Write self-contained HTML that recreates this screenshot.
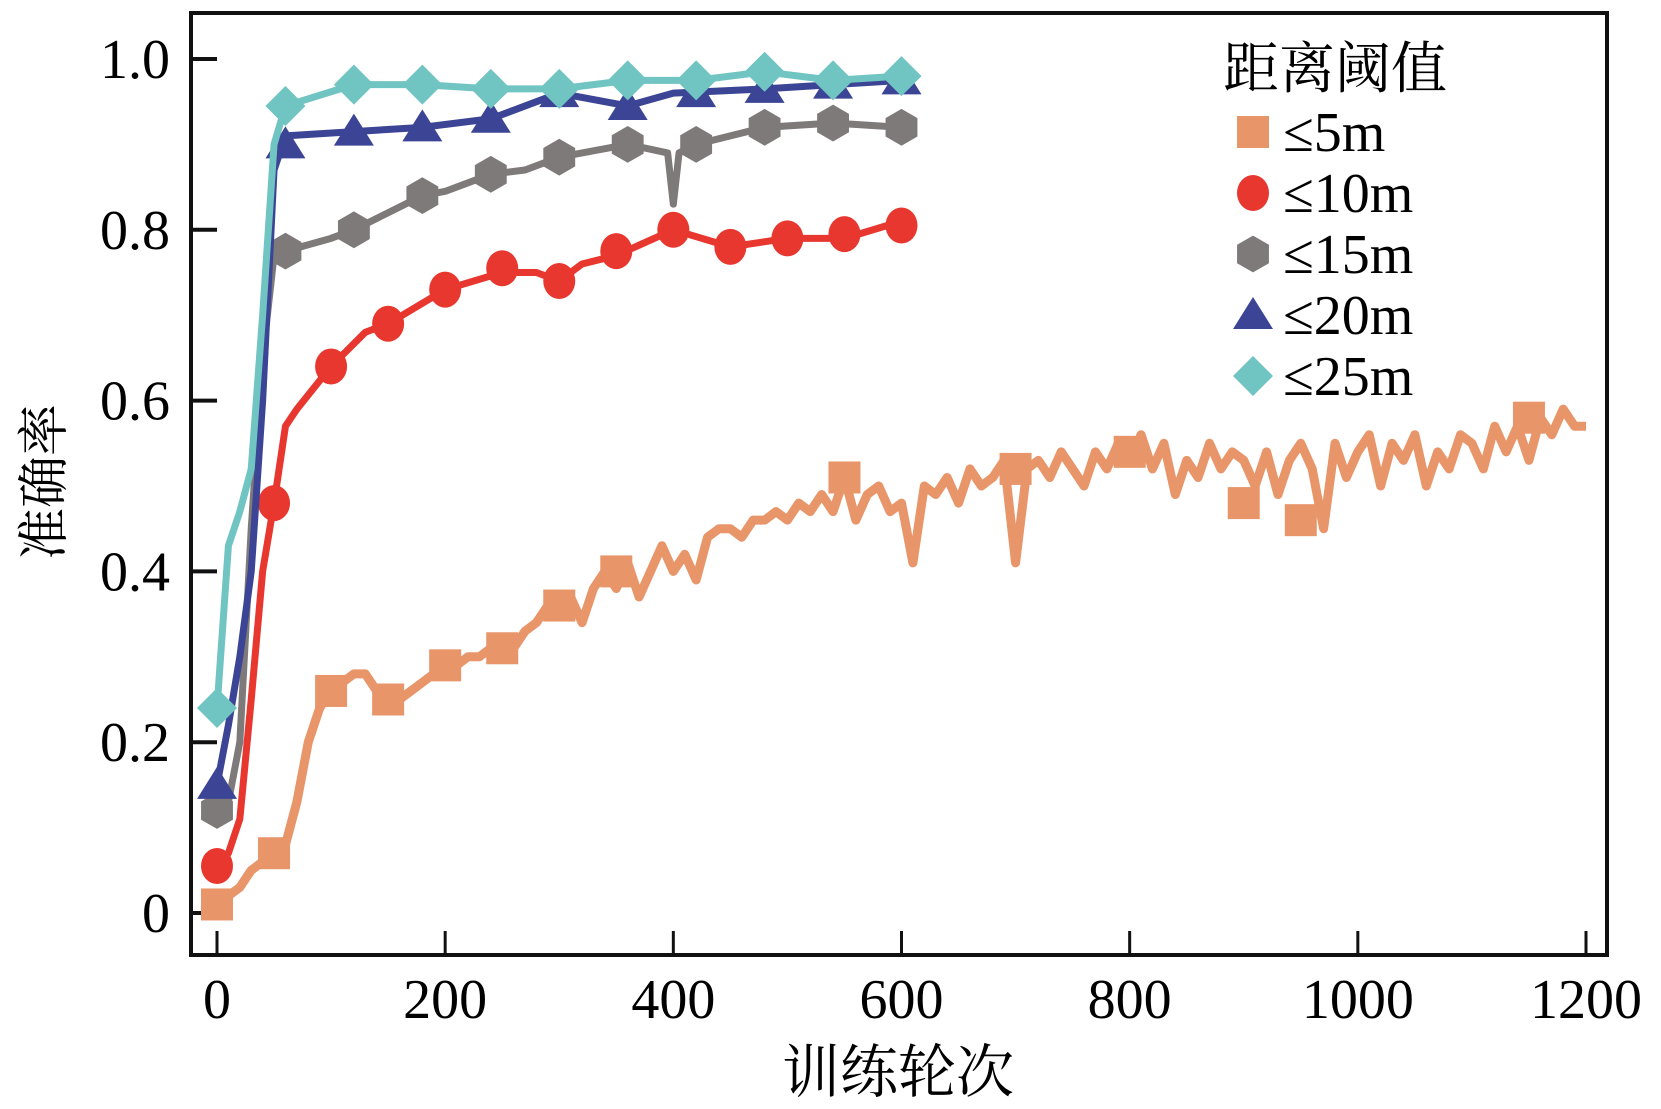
<!DOCTYPE html>
<html><head><meta charset="utf-8"><style>
body{margin:0;background:#fff;}
svg{display:block;font-family:"Liberation Serif","Noto Serif CJK SC",serif;}
</style></head><body>
<svg id="chart" width="1661" height="1109" viewBox="0 0 1661 1109">
<rect x="191" y="13" width="1416" height="942" fill="none" stroke="#111" stroke-width="4"/>
<g id="ticks"></g>
<g id="series"></g>
<text x="898" y="1092" font-size="58" text-anchor="middle" font-family="'Noto Serif CJK SC','Noto Sans CJK SC',serif">训练轮次</text>
<text transform="translate(62,482) rotate(-90)" font-size="52" text-anchor="middle" font-family="'Noto Serif CJK SC','Noto Sans CJK SC',serif">准确率</text>
<g id="legend">
<text x="1223" y="88" font-size="56" font-family="'Noto Serif CJK SC','Noto Sans CJK SC',serif">距离阈值</text>
</g>
</svg>
<script>
const xTicks=[0,200,400,600,800,1000,1200];
const yTicks=[0,0.2,0.4,0.6,0.8,1.0];
const yTickLabels=["0","0.2","0.4","0.6","0.8","1.0"];
const seriesNames=["≤5m","≤10m","≤15m","≤20m","≤25m"];
const orangeX=[0,10,20,30,40,50,60,70,80,90,100,110,120,130,140,150,160,170,180,190,200,210,220,230,240,250,260,270,280,290,300,310,320,330,340,350,360,370,380,390,400,410,420,430,440,450,460,470,480,490,500,510,520,530,540,550,560,570,580,590,600,610,620,630,640,650,660,670,680,690,700,710,720,730,740,750,760,770,780,790,800,810,820,830,840,850,860,870,880,890,900,910,920,930,940,950,960,970,980,990,1000,1010,1020,1030,1040,1050,1060,1070,1080,1090,1100,1110,1120,1130,1140,1150,1160,1170,1180,1190,1200];
const orangeY=[0.01,0.02,0.03,0.05,0.06,0.07,0.08,0.13,0.2,0.24,
0.26,0.27,0.28,0.28,0.26,0.25,0.25,0.26,0.27,0.28,
0.29,0.29,0.30,0.30,0.31,0.31,0.31,0.33,0.34,0.36,
0.36,0.37,0.34,0.38,0.40,0.38,0.41,0.37,0.40,0.43,
0.40,0.42,0.39,0.44,0.45,0.45,0.44,0.46,0.46,0.47,
0.46,0.48,0.47,0.49,0.47,0.51,0.46,0.49,0.50,0.47,
0.48,0.41,0.50,0.49,0.51,0.48,0.52,0.50,0.51,0.53,
0.41,0.52,0.53,0.51,0.54,0.52,0.50,0.54,0.52,0.55,
0.53,0.56,0.52,0.55,0.49,0.53,0.51,0.55,0.52,0.54,
0.53,0.50,0.54,0.49,0.53,0.55,0.52,0.45,0.55,0.51,
0.54,0.56,0.50,0.55,0.53,0.56,0.50,0.54,0.52,0.56,
0.55,0.52,0.57,0.54,0.57,0.53,0.58,0.56,0.59,0.57,0.57];
const orangeMarkX=[0,50,100,150,200,250,300,350,550,700,800,900,950,1150];
const orangeMarkY=[0.01,0.07,0.26,0.25,0.29,0.31,0.36,0.40,0.51,0.52,0.54,0.48,0.46,0.58];
const redX=[0,10,20,30,40,50,60,70,100,130,150,200,250,280,300,320,350,400,450,500,550,600];
const redY=[0.055,0.07,0.11,0.25,0.4,0.48,0.57,0.59,0.64,0.68,0.69,0.73,0.75,0.75,0.74,0.76,0.77,0.80,0.78,0.79,0.79,0.81];
const redMarkX=[0,50,100,150,200,250,300,350,400,450,500,550,600];
const redMarkY=[0.055,0.48,0.64,0.69,0.73,0.755,0.74,0.775,0.8,0.78,0.79,0.795,0.805];
const grayX=[0,10,20,30,40,50,60,100,120,150,180,200,240,270,300,360,395,400,405,420,480,540,600];
const grayY=[0.12,0.13,0.2,0.45,0.65,0.77,0.775,0.79,0.80,0.82,0.84,0.845,0.865,0.87,0.885,0.9,0.89,0.83,0.89,0.9,0.92,0.925,0.92];
const grayMarkX=[0,60,120,180,240,300,360,420,480,540,600];
const grayMarkY=[0.12,0.775,0.80,0.84,0.865,0.885,0.9,0.9,0.92,0.925,0.92];
const blueX=[0,10,20,30,40,50,60,120,180,240,280,300,360,400,480,540,600];
const blueY=[0.15,0.22,0.3,0.4,0.6,0.87,0.91,0.915,0.92,0.93,0.95,0.96,0.945,0.96,0.965,0.97,0.975];
const blueMarkX=[0,60,120,180,240,300,360,420,480,540,600];
const blueMarkY=[0.15,0.9,0.915,0.92,0.93,0.96,0.945,0.96,0.965,0.97,0.975];
const cyanX=[0,10,20,30,40,50,60,120,180,240,300,360,420,480,540,600];
const cyanY=[0.24,0.43,0.47,0.52,0.7,0.9,0.945,0.97,0.97,0.965,0.965,0.975,0.975,0.985,0.975,0.98];
const cyanMarkX=[0,60,120,180,240,300,360,420,480,540,600];
const cyanMarkY=[0.24,0.945,0.97,0.97,0.965,0.965,0.975,0.975,0.985,0.975,0.98];

const NS="http://www.w3.org/2000/svg";
function X(v){return 217+v*(1369/1200);}
function Y(v){return 913-v*854;}
function mk(tag,attrs,parent){const e=document.createElementNS(NS,tag);for(const k in attrs)e.setAttribute(k,attrs[k]);parent.appendChild(e);return e;}
const tg=document.getElementById('ticks');
xTicks.forEach(t=>{
 const l=mk('line',{x1:X(t),x2:X(t),y1:955,y2:931,stroke:'#111','stroke-width':3},tg);
 
 
 const tx=mk('text',{x:X(t),y:1018,'font-size':56,'text-anchor':'middle'},tg);
 tx.textContent=String(t);
 
 
});
yTicks.forEach((t,i)=>{
 const l=mk('line',{x1:191,x2:217,y1:Y(t),y2:Y(t),stroke:'#111','stroke-width':4},tg);
 
 
 const tx=mk('text',{x:170,y:Y(t)+19,'font-size':56,'text-anchor':'end'},tg);
 tx.textContent=yTickLabels[i];
 
 
});
function marker(shape,cx,cy,color,parent){
 const s=16;let e;
 if(shape==='square')e=mk('rect',{x:cx-s,y:cy-s,width:2*s,height:2*s,fill:color},parent);
 else if(shape==='circle')e=mk('ellipse',{cx:cx,cy:cy,rx:s,ry:s+2,fill:color},parent);
 else if(shape==='hex'){let p=[];for(let k=0;k<6;k++){const a=Math.PI/6+k*Math.PI/3;p.push((cx+s*1.15*Math.cos(a))+','+(cy+s*1.15*Math.sin(a)));}e=mk('polygon',{points:p.join(' '),fill:color},parent);}
 else if(shape==='tri')e=mk('polygon',{points:`${cx},${cy-s-2} ${cx+s+4},${cy+s-2} ${cx-s-4},${cy+s-2}`,fill:color},parent);
 else e=mk('polygon',{points:`${cx},${cy-s-4} ${cx+s+4},${cy} ${cx},${cy+s+4} ${cx-s-4},${cy}`,fill:color},parent);
 return e;
}
const sg=document.getElementById('series');
const defs=[
 [orangeX,orangeY,orangeMarkX,orangeMarkY,'#e8956a','square','series-5m',9],
 [redX,redY,redMarkX,redMarkY,'#e8372e','circle','series-10m',7],
 [grayX,grayY,grayMarkX,grayMarkY,'#7f7a7a','hex','series-15m',7],
 [blueX,blueY,blueMarkX,blueMarkY,'#3c4595','tri','series-20m',7],
 [cyanX,cyanY,cyanMarkX,cyanMarkY,'#70c4c2','diamond','series-25m',7]];
defs.forEach(d=>{
 const g=mk('g',{},sg);
 
 
 const pts=d[0].map((x,i)=>X(x)+','+Y(d[1][i])).join(' ');
 const pl=mk('polyline',{points:pts,fill:'none',stroke:d[4],'stroke-width':d[7],'stroke-linejoin':'round'},g);
 
 
 d[2].forEach((m,i)=>{
  const e=marker(d[5],X(m),Y(d[3][i]),d[4],g);
  
  
 });
});
const lg=document.getElementById('legend');
const shapes=['square','circle','hex','tri','diamond'];
const colors=['#e8956a','#e8372e','#7f7a7a','#3c4595','#70c4c2'];
seriesNames.forEach((n,i)=>{
 const cy=132+i*61;
 const e=marker(shapes[i],1253,cy,colors[i],lg);
 
 
 const t=mk('text',{x:1283,y:cy+19,'font-size':56},lg);
 t.textContent=n;
 
 
});
</script>
</body></html>
